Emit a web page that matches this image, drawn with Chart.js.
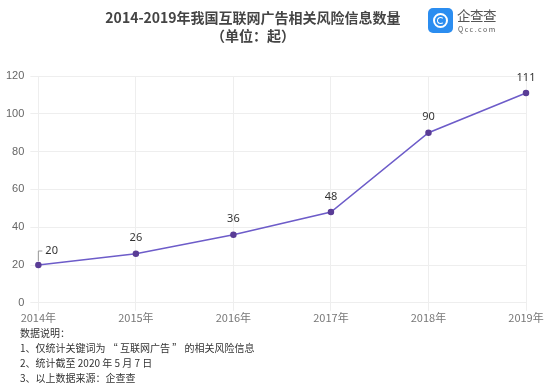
<!DOCTYPE html>
<html>
<head>
<meta charset="utf-8">
<script src="https://cdn.jsdelivr.net/npm/chart.js@4.4.1/dist/chart.umd.min.js"></script>
<style>
    body { margin: 0; background: #fff; font-family: "Noto Sans CJK SC", "Noto Sans", sans-serif; }
    #wrap { position: relative; width: 554px; height: 384px; overflow: hidden; }
    #chart { position: absolute; left: 0; top: 0; }
    .title { position: absolute; left: 0; width: 506px; text-align: center; font-weight: bold; font-size: 14px; color: #444; line-height: 18px; }
    .logo { position: absolute; left: 428px; top: 8px; width: 25px; height: 25px; background: #2b8df0; border-radius: 5px; }
    .logo .ring { position: absolute; left: 5px; top: 5px; width: 11px; height: 11px; border: 2px solid #fff; border-radius: 50%; }
    .logo .ring2 { position: absolute; left: 9px; top: 9px; width: 5px; height: 5px; border: 1.5px solid #fff; border-radius: 50%; border-right-color: transparent; }
    .logo-text { position: absolute; left: 457px; top: 7px; font-size: 13.5px; color: #555; line-height: 17px; letter-spacing: -0.5px; }
    .logo-sub { position: absolute; left: 458px; top: 24px; font-size: 7px; color: #555; letter-spacing: 1.5px; }
    .notes { position: absolute; left: 20px; top: 325px; font-size: 10px; color: #333; line-height: 15px; }
</style>
</head>
<body>
<div id="wrap">
    <canvas id="chart" width="554" height="384"></canvas>
    <div class="title" style="top:8px">2014-2019年我国互联网广告相关风险信息数量</div>
    <div class="title" style="top:26px">（单位：起）</div>
    <div class="logo"><div class="ring"></div><div class="ring2"></div></div>
    <div class="logo-text">企查查</div>
    <div class="logo-sub">Qcc.com</div>
    <div class="notes">
        数据说明：<br>
        1、仅统计关键词为 “ 互联网广告 ” 的相关风险信息<br>
        2、统计截至 2020 年 5 月 7 日<br>
        3、以上数据来源：企查查
    </div>
</div>
<script>
// chart data
const years = ['2014年', '2015年', '2016年', '2017年', '2018年', '2019年'];
const counts = [20, 26, 36, 48, 90, 111];
const yTicks = [0, 20, 40, 60, 80, 100, 120];

// draw value labels above points
const valueLabels = {
    id: 'valueLabels',
    afterDatasetsDraw(chart) {
        const ctx = chart.ctx;
        const meta = chart.getDatasetMeta(0);
        ctx.save();
        ctx.font = '11px "Noto Sans", sans-serif';
        ctx.fillStyle = '#333';
        ctx.textAlign = 'center';
        ctx.textBaseline = 'bottom';
        meta.data.forEach((pt, i) => {
            if (i === 0) {
                // small leader line for first label
                ctx.strokeStyle = '#999';
                ctx.lineWidth = 1;
                ctx.beginPath();
                ctx.moveTo(pt.x, pt.y - 4);
                ctx.lineTo(pt.x, pt.y - 14);
                ctx.lineTo(pt.x + 4, pt.y - 14);
                ctx.stroke();
                ctx.textAlign = 'left';
                ctx.fillText(counts[i], pt.x + 7, pt.y - 9);
                ctx.textAlign = 'center';
            } else {
                ctx.fillText(counts[i], pt.x, pt.y - 10);
            }
        });
        ctx.restore();
    }
};

const ctx = document.getElementById('chart').getContext('2d');
const chart = new Chart(ctx, {
    type: 'line',
    data: {
        labels: years,
        datasets: [{
            data: counts,
            borderColor: '#6d5cc9',
            borderWidth: 1.5,
            pointBackgroundColor: '#5a3d96',
            pointBorderColor: '#5a3d96',
            pointRadius: 2.5,
            tension: 0
        }]
    },
    options: {
        responsive: false,
        animation: false,
        layout: { padding: { top: 76, bottom: 60, left: 0, right: 28 } },
        plugins: { legend: { display: false }, tooltip: { enabled: false } },
        scales: {
            x: {
                offset: false,
                grid: { color: '#eeeeee' },
                border: { display: false },
                ticks: { color: '#777', font: { size: 11, family: '"Noto Sans CJK SC", sans-serif' }, padding: 0, maxRotation: 0 }
            },
            y: {
                min: 0,
                max: 120,
                afterBuildTicks: axis => { axis.ticks = yTicks.map(v => ({ value: v })); },
                grid: { color: '#eeeeee' },
                border: { display: false },
                ticks: { color: '#666', font: { size: 11 }, padding: 6 }
            }
        }
    },
    plugins: [valueLabels]
});
</script>
</body>
</html>
